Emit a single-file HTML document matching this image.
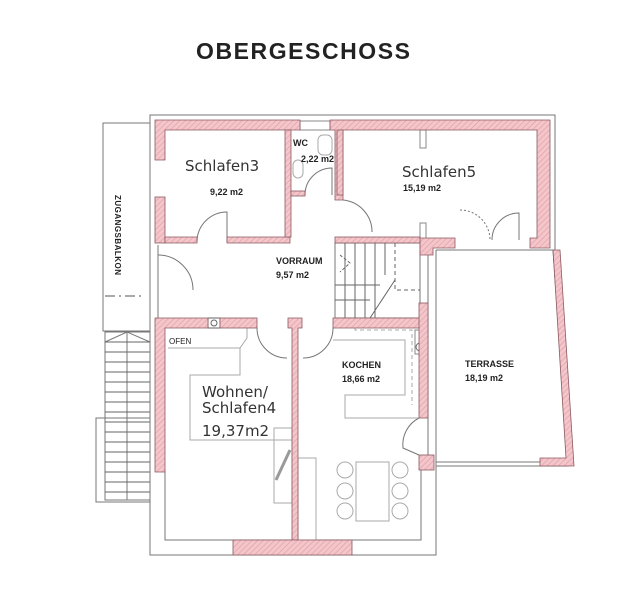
<!DOCTYPE html>
<html><head><meta charset="utf-8"><style>
html,body{margin:0;padding:0;background:#fff;}
svg{display:block}
text{font-family:"Liberation Sans",sans-serif;fill:#222}
.h{font-family:"DejaVu Sans",sans-serif;font-weight:normal;fill:#333}
</style></head><body>
<svg width="640" height="596" viewBox="0 0 640 596" xmlns="http://www.w3.org/2000/svg">
<defs>
<pattern id="hp" width="4" height="4" patternUnits="userSpaceOnUse" patternTransform="rotate(45)">
<rect width="4" height="4" fill="#f3c6cb"/><line x1="0" y1="0" x2="0" y2="4" stroke="#e39aa3" stroke-width="1.2"/>
</pattern>
</defs>
<text x="196" y="59" font-size="23" font-weight="bold" textLength="214" fill="#111">OBERGESCHOSS</text>

<g fill="none" stroke="#777" stroke-width="1">
<rect x="103" y="123" width="47" height="208"/>
<line x1="105" y1="296" x2="145" y2="296" stroke="#555" stroke-dasharray="10,4,2,4"/>
<rect x="105" y="332" width="45" height="168"/>
<rect x="96" y="418" width="54" height="84"/>
<line x1="127" y1="332" x2="127" y2="500"/>
<polyline points="105,342 127,332 150,342"/>
<g stroke="#666">
<line x1="105" y1="342" x2="150" y2="342"/><line x1="105" y1="352" x2="150" y2="352"/><line x1="105" y1="362" x2="150" y2="362"/><line x1="105" y1="372" x2="150" y2="372"/><line x1="105" y1="382" x2="150" y2="382"/><line x1="105" y1="392" x2="150" y2="392"/><line x1="105" y1="402" x2="150" y2="402"/><line x1="105" y1="412" x2="150" y2="412"/><line x1="105" y1="422" x2="150" y2="422"/><line x1="105" y1="432" x2="150" y2="432"/><line x1="105" y1="442" x2="150" y2="442"/><line x1="105" y1="452" x2="150" y2="452"/><line x1="105" y1="462" x2="150" y2="462"/><line x1="105" y1="472" x2="150" y2="472"/><line x1="105" y1="482" x2="150" y2="482"/><line x1="105" y1="492" x2="150" y2="492"/>
</g>
<polyline points="150,470 150,115 555,115 555,250"/>
<line x1="158" y1="245" x2="158" y2="318"/>
<polyline points="150,470 150,555 436,555 436,250"/>
<polyline points="165,470 165,540 421,540 421,470"/>
<polyline points="436,250 553,250 568,466 436,466"/>
<line x1="436" y1="462" x2="566" y2="462"/>
<line x1="428" y1="250" x2="428" y2="470"/>
<path d="M158 255 A35 35 0 0 1 193 290"/>
<path d="M197 242 A30 30 0 0 1 227 212 L227 242"/>
<path d="M305 195 A27 27 0 0 1 332 168 L332 195"/>
<path d="M343 200 A32 32 0 0 1 372 232"/>
<path d="M492 240 A27 27 0 0 1 519 213 L519 240"/>
<path d="M460 210 A30 30 0 0 1 490 240" stroke-dasharray="2,2"/>
<path d="M257 328 A30 30 0 0 0 287 358"/>
<path d="M333 328 A30 30 0 0 1 303 358"/>
<path d="M419 418 A30 30 0 0 0 403 448 L419 455" />
<polyline points="333,340 405,340 405,395 345,395 345,418 418,418" stroke="#aaa"/>
<polyline points="355,328 355,330 412,330 412,405" stroke="#aaa" stroke-dasharray="4,3"/>
<polyline points="168,348 240,348 247,338 247,328" stroke="#aaa"/>
<polyline points="240,348 240,375 190,375 190,440 295,440" stroke="#aaa"/>
<rect x="274" y="428" width="18" height="75" stroke="#aaa"/>
<rect x="298" y="458" width="18" height="82" stroke="#aaa"/>
<line x1="276" y1="480" x2="290" y2="450" stroke="#999" stroke-width="3"/>
<rect x="356" y="462" width="33" height="59" stroke="#aaa"/>
<g stroke="#aaa"><circle cx="345" cy="470" r="8"/><circle cx="345" cy="491" r="8"/><circle cx="345" cy="511" r="8"/>
<circle cx="400" cy="470" r="8"/><circle cx="400" cy="491" r="8"/><circle cx="400" cy="511" r="8"/></g>
<rect x="318" y="135" width="14" height="20" rx="5" stroke="#aaa"/>
<rect x="293" y="160" width="10" height="18" rx="5" stroke="#aaa"/>
<rect x="335" y="243" width="85" height="75"/>
<g stroke="#666">
<line x1="345" y1="243" x2="345" y2="318"/><line x1="355" y1="243" x2="355" y2="318"/><line x1="365" y1="243" x2="365" y2="318"/><line x1="375" y1="243" x2="375" y2="318"/>
<line x1="385" y1="243" x2="385" y2="275"/><line x1="335" y1="285" x2="380" y2="285"/><line x1="335" y1="300" x2="370" y2="300"/>
<line x1="370" y1="318" x2="395" y2="280"/>
<polyline points="395,243 395,290 420,290" stroke-dasharray="4,3"/>
<polyline points="340,255 350,263 340,272" stroke-dasharray="3,2"/>
</g>
<rect x="415" y="330" width="10" height="24" stroke="#888"/>
<circle cx="420" cy="347" r="4" stroke="#666"/>
<rect x="208" y="318" width="12" height="10" stroke="#666"/>
<circle cx="214" cy="323" r="3" stroke="#666"/>
<rect x="300" y="121" width="30" height="9" stroke="#888"/>
<rect x="420" y="130" width="6" height="18" stroke="#888"/>
<rect x="420" y="223" width="6" height="18" stroke="#888"/>
</g>

<g fill="url(#hp)" stroke="#8a5a60" stroke-width="0.8">
<path d="M155 120 H300 V130 H165 V160 H155 Z"/>
<rect x="155" y="197" width="10" height="46"/>
<path d="M165 237 H197 V243 H165 Z"/>
<path d="M227 237 H290 V243 H227 Z"/>
<rect x="285" y="130" width="6" height="107"/>
<rect x="291" y="191" width="14" height="5"/>
<path d="M330 120 H550 V248 H530 V238 H537 V130 H343 V200 H335 V130 H330 Z"/>
<path d="M420 238 H455 V248 H433 V255 H420 Z"/>
<rect x="337" y="130" width="6" height="65"/>
<rect x="335" y="237" width="85" height="6"/>
<path d="M155 318 H208 V328 H165 V472 H155 Z"/>
<rect x="220" y="318" width="37" height="10"/>
<path d="M288 318 H302 V328 H298 V540 H292 V328 H288 Z"/>
<path d="M333 318 H428 V328 H333 Z"/>
<rect x="419" y="303" width="9" height="115"/>
<rect x="419" y="455" width="15" height="15"/>
<path d="M233 540 H352 V555 H233 Z"/>
<path d="M553 250 L560 250 L574 466 L540 466 L540 458 L566 458 Z"/>
</g>

<text class="h" x="185" y="171" font-size="15">Schlafen3</text>
<text x="210" y="195" font-size="9" font-weight="bold">9,22 m2</text>
<text x="293" y="146" font-size="9" font-weight="bold">WC</text>
<text x="301" y="162" font-size="9" font-weight="bold">2,22 m2</text>
<text class="h" x="402" y="177" font-size="15">Schlafen5</text>
<text x="403" y="191" font-size="9" font-weight="bold">15,19 m2</text>
<text x="276" y="264" font-size="9" font-weight="bold">VORRAUM</text>
<text x="276" y="278" font-size="9" font-weight="bold">9,57 m2</text>
<text x="342" y="368" font-size="9" font-weight="bold">KOCHEN</text>
<text x="342" y="382" font-size="9" font-weight="bold">18,66 m2</text>
<text x="465" y="367" font-size="9" font-weight="bold">TERRASSE</text>
<text x="465" y="381" font-size="9" font-weight="bold">18,19 m2</text>
<text x="169" y="344" font-size="8" fill="#444">OFEN</text>
<text class="h" x="202" y="397" font-size="15">Wohnen/</text>
<text class="h" x="202" y="413" font-size="15">Schlafen4</text>
<text class="h" x="202" y="436" font-size="15">19,37m2</text>
<text x="0" y="0" font-size="8" font-weight="bold" transform="translate(115,195) rotate(90)" textLength="80">ZUGANGSBALKON</text>
</svg>
</body></html>
